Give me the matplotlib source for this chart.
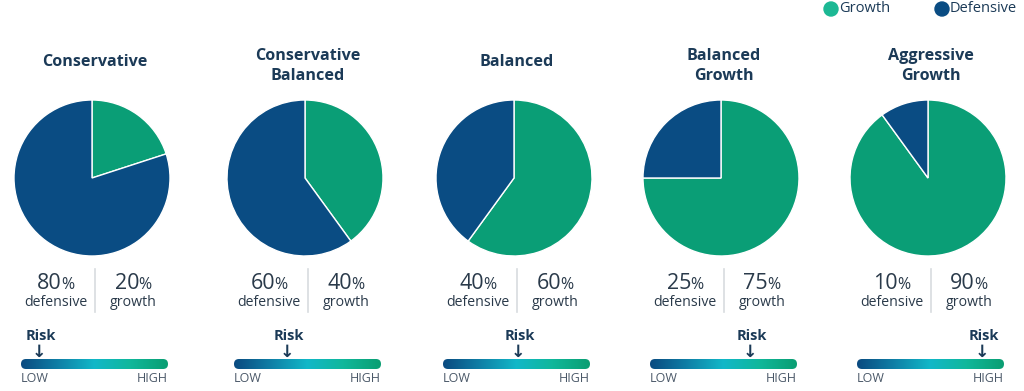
import numpy as np
import matplotlib.pyplot as plt
from matplotlib.colors import LinearSegmentedColormap
from matplotlib.patches import FancyBboxPatch, Circle

plt.rcParams['font.family'] = ['Open Sans', 'DejaVu Sans']

# data
titles = ["Conservative", "Conservative\nBalanced", "Balanced", "Balanced\nGrowth", "Aggressive\nGrowth"]
growth = [20, 40, 60, 75, 90]
defensive = [80, 60, 40, 25, 10]
risk_level = [0.12, 0.36, 0.51, 0.68, 0.85]

GREEN = '#0a9e76'
BLUE = '#0a4c83'
NAVY = '#1b3a57'
GREY = '#4a5868'
TXT = '#2a3a4a'

W, H = 1024, 391
fig = plt.figure(figsize=(W / 100, H / 100), dpi=100)
ax = fig.add_axes([0, 0, 1, 1])
ax.set_xlim(0, W)
ax.set_ylim(H, 0)
ax.axis('off')

pie_x = [92, 305, 514, 721, 928]
pie_y, r = 178, 78
cmap = LinearSegmentedColormap.from_list('risk', ['#0a4a80', '#0f7fa6', '#12b8c8', '#10b79a', '#0a9e72'])
grad = np.linspace(0, 1, 256).reshape(1, -1)

for i, cx in enumerate(pie_x):
    pax = fig.add_axes([(cx - r) / W, (H - pie_y - r) / H, 2 * r / W, 2 * r / H])
    pax.pie([growth[i], defensive[i]], colors=[GREEN, BLUE], startangle=90,
            counterclock=False, wedgeprops=dict(edgecolor='white', linewidth=1))
    pax.set_xlim(-1, 1)
    pax.set_ylim(-1, 1)
    pax.set_aspect('equal')

    pc = cx + 3
    # title
    if '\n' in titles[i]:
        ax.text(pc, 66, titles[i], ha='center', va='center', fontsize=11.6,
                fontweight='bold', color=NAVY, linespacing=1.35)
    else:
        ax.text(pc, 62, titles[i], ha='center', va='center', fontsize=11.6,
                fontweight='bold', color=NAVY)

    # percentages
    ax.plot([pc, pc], [269, 312], color='#d8dcdf', lw=1.2)
    for dx, val, lab in [(-39, defensive[i], 'defensive'), (38, growth[i], 'growth')]:
        x = pc + dx
        ax.text(x + 6, 289, str(val), ha='right', va='baseline', fontsize=15.5, color=TXT)
        ax.text(x + 5, 289, '%', ha='left', va='baseline', fontsize=11.5, color=TXT)
        ax.text(x, 302, lab, ha='center', va='center', fontsize=10.2, color=TXT)

    # risk bar
    x0, x1 = pc - 74, pc + 73
    y0, y1 = 359, 369
    im = ax.imshow(grad, cmap=cmap, aspect='auto', extent=(x0, x1, y1, y0), zorder=2)
    clip = FancyBboxPatch((x0, y0), x1 - x0, y1 - y0,
                          boxstyle='round,pad=0,rounding_size=5', facecolor='none',
                          edgecolor='none')
    ax.add_patch(clip)
    im.set_clip_path(clip)
    ax.text(x0, 379, 'LOW', ha='left', va='center', fontsize=9, color=GREY)
    ax.text(x1, 379, 'HIGH', ha='right', va='center', fontsize=9, color=GREY)
    rx = x0 + risk_level[i] * (x1 - x0)
    ax.text(rx + 2, 336, 'Risk', ha='center', va='center', fontsize=10.5,
            fontweight='bold', color=NAVY)
    ax.text(rx, 352, '\u2193', ha='center', va='center', fontsize=12.5,
            fontweight='bold', color=NAVY, family='DejaVu Sans')

ax.set_ylim(H, 0)
ax.set_xlim(0, W)

# legend
for x, c, lab in [(831, '#1cb894', 'Growth'), (942, BLUE, 'Defensive')]:
    ax.add_patch(Circle((x, 9), 7, color=c))
    ax.text(x + 8, 9, lab, ha='left', va='center', fontsize=10.5, color=NAVY)

fig.savefig('out.png', dpi=100)
